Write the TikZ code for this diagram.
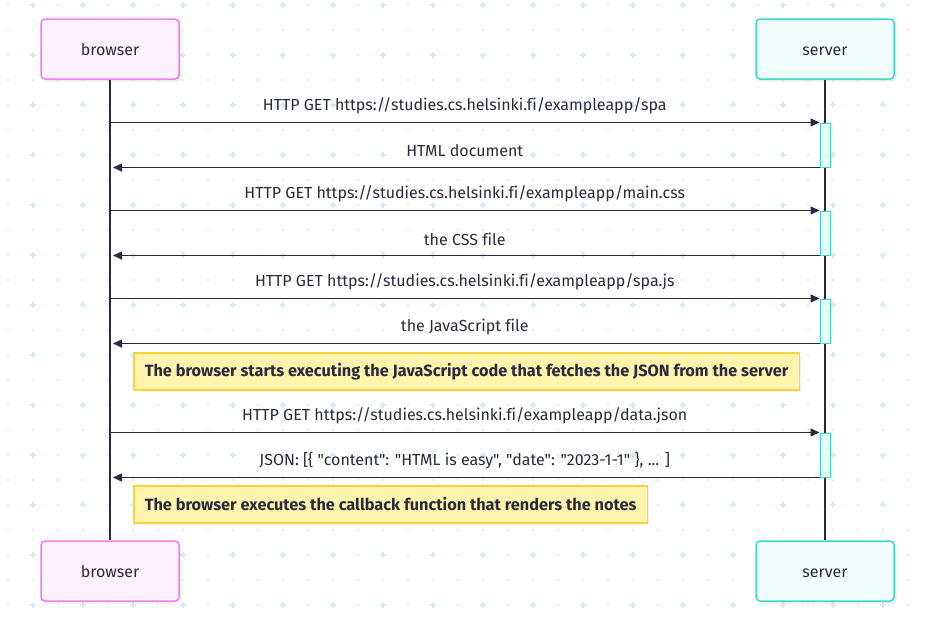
\documentclass[tikz,border=0pt]{standalone}
\usepackage{fontspec}
\setmainfont{Fira Sans}[Ligatures={TeXOff,NoCommon}]
\usetikzlibrary{arrows.meta,shadows}
\definecolor{ink}{HTML}{2B2A3C}
\definecolor{dotgrid}{HTML}{D5ECF0}
\definecolor{browserline}{HTML}{EC80F0}
\definecolor{browserfill}{HTML}{FDF1FD}
\definecolor{serverline}{HTML}{3CDCC4}
\definecolor{serverfill}{HTML}{F0FDFA}
\definecolor{actfill}{HTML}{E4FBF6}
\definecolor{noteline}{HTML}{F8D438}
\definecolor{notefill}{HTML}{FFF4AE}
\tikzset{
  actor/.style={draw, rounded corners=4pt, line width=1.5pt, minimum width=138pt,
    minimum height=60pt, text=ink, font=\fontsize{16}{18}\selectfont,
    text height=14pt, text depth=1pt,
    drop shadow={opacity=0.12, shadow xshift=2.5pt, shadow yshift=-2.5pt}},
  browserbox/.style={actor, draw=browserline, fill=browserfill},
  serverbox/.style={actor, draw=serverline, fill=serverfill},
  actbox/.style={draw=serverline, fill=actfill, line width=1pt, minimum width=10pt,
    minimum height=44pt, inner sep=0pt},
  msg/.style={draw=ink, line width=1.5pt, -{Triangle[length=9pt,width=8pt]}},
  msglabel/.style={midway, yshift=16.5pt, text=ink, inner sep=0pt,
    font=\fontsize{16}{18}\selectfont},
  notebox/.style={draw=noteline, fill=notefill, line width=1.5pt, text=ink,
    anchor=west, inner xsep=11pt, minimum height=37pt,
    font=\fontsize{16.3}{18}\selectfont\bfseries,
    drop shadow={opacity=0.1, shadow xshift=2pt, shadow yshift=-2pt}},
}
\begin{document}
\begin{tikzpicture}[x=1pt,y=-1pt]
  \fill[white] (0,0) rectangle (927,624);
  \useasboundingbox (0,0) rectangle (927,624);
  % background grid
  \foreach \a in {0,...,37}{
    \foreach \b in {0,...,24}{
      \pgfmathtruncatemacro{\isplus}{(mod(\a,2)==1 && mod(\b,2)==0) ? 1 : 0}
      \ifnum\isplus=1
        \draw[dotgrid,line width=1.5pt] (8+25*\a-3,5+25*\b) -- ++(6,0)
          (8+25*\a,5+25*\b-3) -- ++(0,6);
      \else
        \fill[dotgrid] (8+25*\a,5+25*\b) circle (1.1pt);
      \fi
    }
  }
  % participants
  \node[browserbox] (browsertop) at (110,49) {browser};
  \node[serverbox] (servertop) at (825,49) {server};
  \node[browserbox] (browserbot) at (110,571) {browser};
  \node[serverbox] (serverbot) at (825,571) {server};
  \draw[ink,line width=1.5pt] (browsertop.south) -- (browserbot.north);
  \draw[ink,line width=1.5pt] (servertop.south) -- (serverbot.north);
  % activations
  \foreach \n/\y in {1/145,2/233,3/321,4/455}{
    \node[actbox] (act\n) at (825,\y) {};
  }
  % messages
  \draw[msg] (browsertop.south |- act1.north west) -- (act1.north west)
    node[msglabel] {HTTP GET https://studies.cs.helsinki.fi/exampleapp/spa};
  \draw[msg,shorten >=3pt] (act1.south west) -- (browsertop.south |- act1.south west)
    node[msglabel] {HTML document};
  \draw[msg] (browsertop.south |- act2.north west) -- (act2.north west)
    node[msglabel] {HTTP GET https://studies.cs.helsinki.fi/exampleapp/main.css};
  \draw[msg,shorten >=3pt] (act2.south west) -- (browsertop.south |- act2.south west)
    node[msglabel] {the CSS file};
  \draw[msg] (browsertop.south |- act3.north west) -- (act3.north west)
    node[msglabel] {HTTP GET https://studies.cs.helsinki.fi/exampleapp/spa.js};
  \draw[msg,shorten >=3pt] (act3.south west) -- (browsertop.south |- act3.south west)
    node[msglabel] {the JavaScript file};
  \node[notebox] (startnote) at ([xshift=23pt]browsertop.south |- 0,371.5)
    {The browser starts executing the JavaScript code that fetches the JSON from the server};
  \draw[msg] (browsertop.south |- act4.north west) -- (act4.north west)
    node[msglabel] {HTTP GET https://studies.cs.helsinki.fi/exampleapp/data.json};
  \draw[msg,shorten >=3pt] (act4.south west) -- (browsertop.south |- act4.south west)
    node[msglabel] {JSON: [\{ "content": "HTML is easy", "date": "2023-1-1" \}, ... ]};
  \node[notebox] (callbacknote) at ([xshift=23pt]browsertop.south |- 0,504.5)
    {The browser executes the callback function that renders the notes};
\end{tikzpicture}
\end{document}
